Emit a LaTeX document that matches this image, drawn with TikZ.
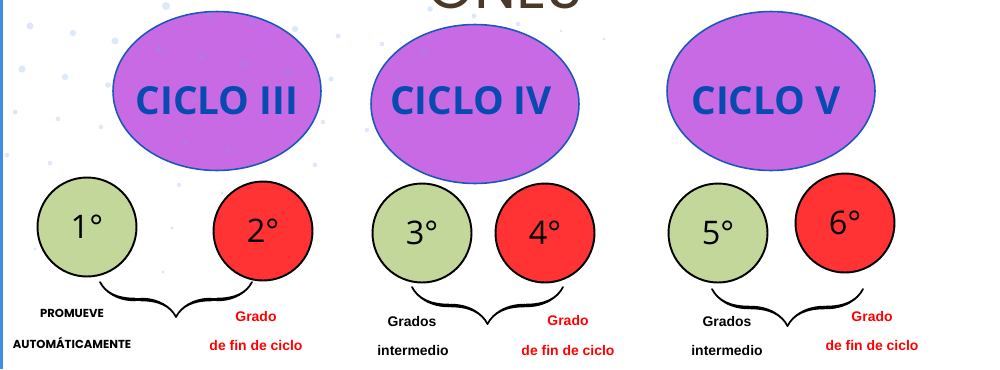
\documentclass[tikz,border=0pt]{standalone}
\usepackage{fontspec}
\setmainfont{Liberation Sans}
\newfontfamily\osf{Open Sans}
\newfontfamily\popf{Poppins}
\usetikzlibrary{shapes.geometric,decorations.pathreplacing,calligraphy}
\definecolor{ellfill}{RGB}{200,106,228}
\definecolor{ellline}{RGB}{26,88,190}
\definecolor{cblue}{RGB}{8,74,175}
\definecolor{gfill}{RGB}{196,215,155}
\definecolor{rfill}{RGB}{255,51,51}
\definecolor{dotc}{RGB}{120,165,240}
\definecolor{edge}{RGB}{61,143,230}
\definecolor{titlec}{RGB}{74,56,40}
\begin{document}
\begin{tikzpicture}[x=0.02cm,y=-0.02cm,
  ciclo/.style={ellipse,draw=ellline,line width=0.9pt,fill=ellfill,minimum width=4.16cm,minimum height=3.18cm,inner sep=0pt},
  ctext/.style={font=\osf\bfseries\fontsize{22}{26}\selectfont,text=cblue,inner sep=0pt},
  grado/.style={circle,draw=black,line width=1.1pt,minimum size=1.98cm,inner sep=0pt,font=\osf\fontsize{18.5}{21}\selectfont},
  verde/.style={grado,fill=gfill},
  rojo/.style={grado,fill=rfill},
  lab/.style={font=\bfseries\fontsize{7.94}{9}\selectfont,inner sep=0pt},
  labr/.style={lab,text=red},
  labp/.style={font=\popf\bfseries\fontsize{6.6}{8}\selectfont,inner sep=0pt},
  llave/.style={decorate,decoration={calligraphic brace,mirror,amplitude=#1},line width=2pt,pen colour={black}},
  dot/.style={fill=dotc,opacity=0.25}]
\useasboundingbox (0,0) rectangle (1000,369);
\clip (0,0) rectangle (1000,369);
\fill[white] (0,0) rectangle (1000,369);
\fill[edge] (0,0) rectangle (3,369);
% title (cut off at the top edge, as in the reference)
\node[anchor=base,text=titlec,font=\popf\fontsize{34}{40}\selectfont,inner sep=0pt] (title) at (505,8) {ONES};
% ellipses
\node[ciclo] (c3) at (217,91) {};
\node[ciclo] (c4) at (475,104) {};
\node[ciclo] (c5) at (771,91) {};
% dots
\foreach \x/\y/\r in {30/26/2.0,73/33/1.8,115/41/2.0,22/69/2.0,65/77/1.8,108/85/1.6,166/6/2.2,209/15/1.8,252/22/1.6,295/29/1.8,338/36/1.4,382/44/1.3,424/52/1.6,159/49/1.8,202/57/1.6,245/64/1.6,288/72/1.6,331/79/1.4,15/112/1.4,58/119/1.3,101/127/1.3,143/135/1.4,186/143/1.4,229/150/1.3,7/155/1.3,50/163/1.3,315/165/1.3,367/130/1.3,323/122/1.3,280/114/1.3,237/107/1.4,194/99/1.4,152/93/1.4,430/9/1.6,474/16/1.4,518/24/1.3,561/31/0.9,604/39/0.9,179/185/1.2,222/193/1.0,172/228/0.9,128/221/0.9,163/272/0.9,35/249/0.9,302/251/0.9,267/200/0.9}
  \fill[dot] (\x,\y) circle[radius=\r pt];
\node[ctext] (t3) at (217,101) {CICLO III};
\node[ctext] (t4) at (471,101) {CICLO IV};
\node[ctext] (t5) at (766,101) {CICLO V};
% grade circles
\node[verde] (g1) at (87,227) {1°};
\node[rojo]  (g2) at (263,231) {2°};
\node[verde] (g3) at (422,233) {3°};
\node[rojo]  (g4) at (545,233) {4°};
\node[verde] (g5) at (718,233) {5°};
\node[rojo]  (g6) at (845,223) {6°};
% braces
\coordinate (b1a) at (100,282); \coordinate (b1b) at (252,282);
\coordinate (b2a) at (412,287); \coordinate (b2b) at (563,287);
\coordinate (b3a) at (712,289); \coordinate (b3b) at (863,289);
\draw[llave=0.7cm] (b1a) -- (b1b);
\draw[llave=0.74cm] (b2a) -- (b2b);
\draw[llave=0.74cm] (b3a) -- (b3b);
% labels
\node[labp] (p1) at (72,313) {PROMUEVE};
\node[labp] (p2) at (72,343) {AUTOMÁTICAMENTE};
\node[labr] (r1) at (256,317) {Grado};
\node[labr] (r2) at (256,346) {de fin de ciclo};
\node[lab]  (i1) at (412,322) {Grados};
\node[lab]  (i2) at (413,351) {intermedio};
\node[labr] (r3) at (568,321) {Grado};
\node[labr] (r4) at (568,351) {de fin de ciclo};
\node[lab]  (i3) at (727,322) {Grados};
\node[lab]  (i4) at (727,351) {intermedio};
\node[labr] (r5) at (872,317) {Grado};
\node[labr] (r6) at (872,346) {de fin de ciclo};
\end{tikzpicture}
\end{document}
